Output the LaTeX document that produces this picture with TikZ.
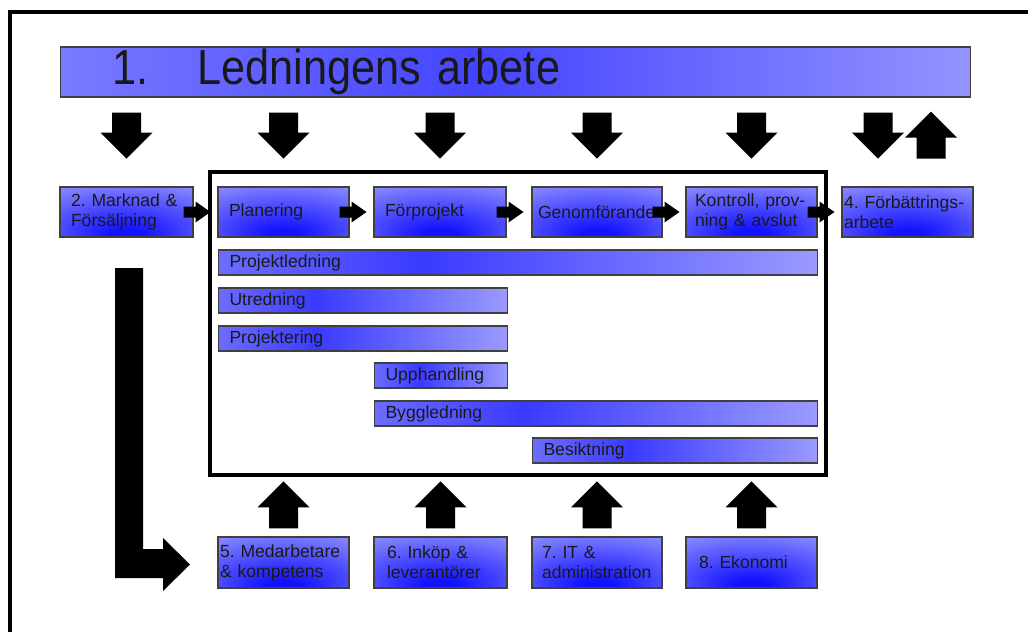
\documentclass[tikz,border=0pt]{standalone}
\usepackage{fontspec}
\setmainfont{Liberation Sans}
\newfontfamily\titlefont[FakeStretch=0.88]{Liberation Sans}
\frenchspacing
\definecolor{bdeep}{HTML}{1212FF}
\definecolor{blight}{HTML}{ACACFF}
\definecolor{barl}{HTML}{6C6CFF}
\definecolor{barm}{HTML}{3A3AFF}
\definecolor{barr}{HTML}{9A9AFF}
\definecolor{banl}{HTML}{7A7AFF}
\definecolor{banm}{HTML}{4444FF}
\definecolor{banr}{HTML}{9494FF}
\pgfdeclareradialshading{boxshade}{\pgfpoint{0bp}{-25bp}}{color(0bp)=(bdeep);color(6bp)=(bdeep);color(56bp)=(blight);color(90bp)=(blight)}
\pgfdeclarehorizontalshading{barshade}{100bp}{color(0bp)=(barl);color(25bp)=(barl);color(42bp)=(barm);color(75bp)=(barr);color(100bp)=(barr)}
\pgfdeclarehorizontalshading{bannershade}{100bp}{color(0bp)=(banl);color(25bp)=(banl);color(48bp)=(banm);color(75bp)=(banr);color(100bp)=(banr)}
\tikzset{
  procbox/.style={rectangle,draw=black!75,line width=0.6pt,shading=boxshade,minimum height=1cm,
    inner xsep=0.22cm,inner ysep=0pt,align=left,text width=2.18cm,text=black!90,
    font=\fontsize{10}{11.4}\selectfont},
  barbox/.style={rectangle,draw=black!75,line width=0.6pt,shading=barshade,minimum height=0.5cm,
    inner xsep=0.22cm,inner ysep=0pt,align=left,anchor=west,text=black!90,
    font=\fontsize{10}{11.4}\selectfont},
  bannerbox/.style={rectangle,draw=black!75,line width=0.6pt,shading=bannershade,minimum height=1cm,
    inner xsep=1.04cm,inner ysep=0pt,align=left,text width=16.14cm,text=black!90,
    font=\titlefont\fontsize{28}{30}\selectfont},
  frame/.style={draw=black,line width=0.07cm},
  downarr/.pic={\fill (-14.5,0) -- (14.5,0) -- (14.5,20) -- (26,20) -- (0,46) -- (-26,20) -- (-14.5,20) -- cycle;},
  uparr/.pic={\fill (-14.5,0) -- (14.5,0) -- (14.5,-21) -- (26,-21) -- (0,-47) -- (-26,-21) -- (-14.5,-21) -- cycle;},
  rarr/.pic={\fill (0,-5.5) -- (12,-5.5) -- (12,-10.5) -- (27,0) -- (12,10.5) -- (12,5.5) -- (0,5.5) -- cycle;}
}
\begin{document}
\begin{tikzpicture}[x=0.02cm,y=-0.02cm]
\useasboundingbox (0,0) rectangle (1028,632);
\clip (0,0) rectangle (1028,632);
\draw[frame] (10,12) rectangle (1045,650);

\node[bannerbox] (banner) at (515.5,72) {1.\hspace{0.98cm}Ledningens arbete};

\draw[frame] (210,172) rectangle (826,475);

\node[procbox,text width=2.22cm] (mark) at (126.5,212) {2. Marknad \&\\Försäljning};
\node[procbox] (plan) at (283.5,212) {Planering};
\node[procbox,text width=2.2cm] (forp) at (440,212) {Förprojekt};
\node[procbox,inner xsep=0.12cm,text width=2.36cm] (genom) at (597,212) {Genomförande};
\node[procbox,inner xsep=0.18cm,text width=2.26cm] (kont) at (751.5,212) {Kontroll, prov-\\ning \& avslut};
\node[procbox,inner xsep=0.04cm,text width=2.54cm] (forb) at (907.5,212) {4. Förbättrings-\\arbete};

\node[barbox,text width=11.54cm] (pled) at (218,262.5) {Projektledning};
\node[barbox,text width=5.34cm] (utr) at (218,300.5) {Utredning};
\node[barbox,text width=5.34cm] (projt) at (218,338.5) {Projektering};
\node[barbox,text width=2.22cm] (upph) at (374,375.5) {Upphandling};
\node[barbox,text width=8.42cm] (bygg) at (374,413.5) {Byggledning};
\node[barbox,text width=5.26cm] (besikt) at (532,450.5) {Besiktning};

\node[procbox,minimum height=1.02cm,inner xsep=0.04cm,text width=2.54cm] (med) at (283.5,562.5) {5. Medarbetare\\\& kompetens};
\node[procbox,minimum height=1.02cm,inner xsep=0.26cm,text width=2.14cm] (inkop) at (440.5,562.5) {6. Inköp \&\\leverantörer};
\node[procbox,minimum height=1.02cm,inner xsep=0.2cm,text width=2.2cm] (itadm) at (597,562.5) {7. IT \&\\administration};
\node[procbox,minimum height=1.02cm,inner xsep=0.26cm,text width=2.1cm] (ekon) at (751.5,562.5) {8. Ekonomi};

\foreach \n in {mark,plan,forp,genom,kont}
  \pic[yshift=-0.3cm] at (\n |- banner.south) {downarr};
\pic[yshift=-0.3cm,xshift=-0.59cm] at (forb |- banner.south) {downarr};
\pic[yshift=-1.22cm,xshift=0.47cm] at (forb |- banner.south) {uparr};

\foreach \n in {mark,plan,forp,genom,kont}
  \pic[xshift=-0.2cm] at (\n.east) {rarr};

\foreach \n in {med,inkop,itadm,ekon}
  \pic[yshift=0.16cm] at (\n.north) {uparr};

\fill (115,268) -- (143,268) -- (143,549) -- (163,549) -- (163,538) -- (190,564.5)
  -- (163,591) -- (163,578) -- (115,578) -- cycle;
\end{tikzpicture}
\end{document}
